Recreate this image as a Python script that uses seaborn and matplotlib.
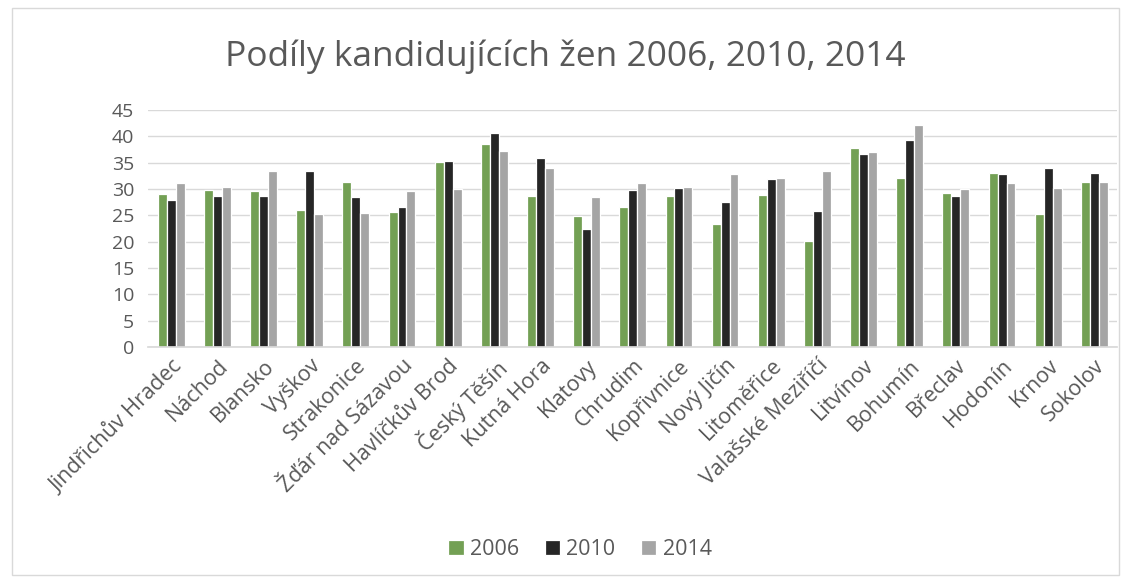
import pandas as pd
import matplotlib
matplotlib.use("Agg")
import matplotlib.pyplot as plt
import seaborn as sns
from matplotlib.patches import Rectangle

# Data
mesta = ["Jindřichův Hradec", "Náchod", "Blansko", "Vyškov", "Strakonice",
         "Žďár nad Sázavou", "Havlíčkův Brod", "Český Těšín", "Kutná Hora",
         "Klatovy", "Chrudim", "Kopřivnice", "Nový Jičín", "Litoměřice",
         "Valašské Meziříčí", "Litvínov", "Bohumín", "Břeclav", "Hodonín",
         "Krnov", "Sokolov"]
roky = ["2006", "2010", "2014"]
podil_2006 = [29.0, 29.9, 29.7, 26.0, 31.4, 25.7, 35.1, 38.5, 28.7, 24.9, 26.5,
              28.7, 23.3, 28.9, 20.1, 37.8, 32.1, 29.2, 33.1, 25.3, 31.4]
podil_2010 = [28.0, 28.7, 28.7, 33.4, 28.5, 26.6, 35.3, 40.7, 35.9, 22.4, 29.9,
              30.2, 27.5, 31.9, 25.8, 36.6, 39.3, 28.7, 32.9, 34.1, 33.1]
podil_2014 = [31.1, 30.4, 33.4, 25.3, 25.5, 29.7, 30.1, 37.3, 34.1, 28.5, 31.1,
              30.4, 32.9, 32.2, 33.4, 37.1, 42.2, 30.0, 31.1, 30.2, 31.4]

df = pd.DataFrame({
    "mesto": mesta * 3,
    "rok": [r for r in roky for _ in mesta],
    "podil": podil_2006 + podil_2010 + podil_2014,
})

sns.set_theme(style="white")
plt.rcParams["font.family"] = ["Open Sans", "DejaVu Sans"]
seda_text = "#595959"

fig = plt.figure(figsize=(11.31, 5.80), dpi=100)
ax = fig.add_axes([0.131, 0.402, 0.857, 0.408])

sns.barplot(data=df, x="mesto", y="podil", hue="rok", order=mesta,
            hue_order=roky, palette=["#70AD47", "#262626", "#A5A5A5"],
            width=0.58, edgecolor="white", linewidth=0.9, ax=ax)

ax.set_ylim(0, 45)
ax.set_yticks(range(0, 46, 5))
ax.set_xlim(-0.5, len(mesta) - 0.5)
ax.yaxis.grid(True, color="#D9D9D9", linewidth=1)
ax.set_axisbelow(True)
for s in ["top", "right", "left"]:
    ax.spines[s].set_visible(False)
ax.spines["bottom"].set_color("#D9D9D9")
ax.tick_params(axis="both", length=0, labelsize=14, colors=seda_text)
ax.tick_params(axis="y", pad=10)
ax.tick_params(axis="x", pad=6)
plt.setp(ax.get_xticklabels(), rotation=45, ha="right", rotation_mode="anchor",
         fontsize=15.5)
ax.set_xlabel("")
ax.set_ylabel("")

fig.text(0.5, 0.902, "Podíly kandidujících žen 2006, 2010, 2014",
         ha="center", va="center", fontsize=25.5, color=seda_text)

leg = ax.legend(loc="center", bbox_to_anchor=(0.513, 0.053),
                bbox_transform=fig.transFigure, ncol=3, frameon=False,
                fontsize=15.5, handlelength=0.7, handleheight=0.7,
                handletextpad=0.3, columnspacing=1.2)
for t in leg.get_texts():
    t.set_color(seda_text)

fig.patches.append(Rectangle((0.011, 0.008), 0.978, 0.978,
                             transform=fig.transFigure, fill=False,
                             edgecolor="#D9D9D9", linewidth=1))

fig.savefig("out.png", dpi=100)
